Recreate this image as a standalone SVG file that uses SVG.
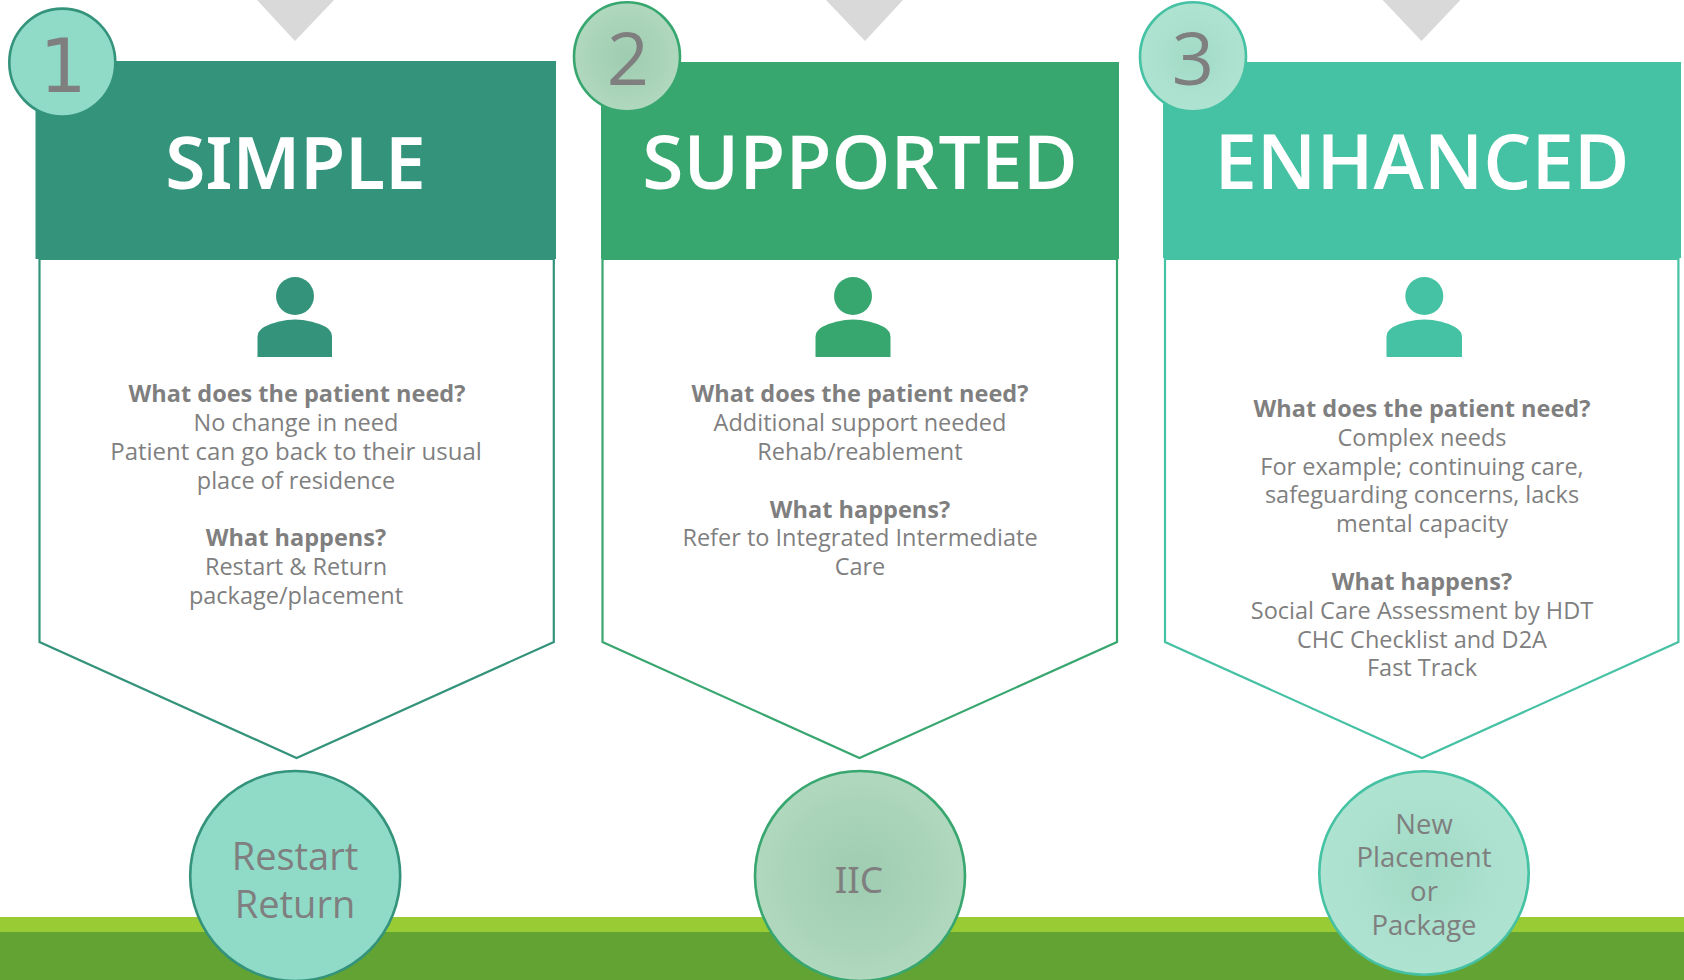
<svg xmlns="http://www.w3.org/2000/svg" width="1684" height="980" viewBox="0 0 1684 980">
<style>
text{font-family:"Open Sans","Noto Sans","Liberation Sans",sans-serif;text-anchor:middle;fill:#7f7f7f}
.t{font-size:76px;font-weight:600;fill:#fff}
.i{font-family:"Noto Sans","Open Sans",sans-serif}
.n{font-size:74px}
.b{font-size:23.5px}
.h{font-size:23.5px;font-weight:700}
.c{font-size:38px}
.d{font-size:27.500px}
.tri{fill:#d9d9d9}
.body{fill:#fff;stroke-width:2.2}
.g1{fill:#33937b}.g2{fill:#38a76f}.g3{fill:#45c1a3}
.s1{stroke:#33937b}.s2{stroke:#38a76f}.s3{stroke:#45c1a3}
.o{stroke-width:2.6}
</style>
<defs>
<radialGradient id="r2"><stop offset="0" stop-color="#9fcdb1"/><stop offset="0.6" stop-color="#a8d3b8"/><stop offset="1" stop-color="#b0d8be"/></radialGradient>
<radialGradient id="r3"><stop offset="0" stop-color="#a1dac6"/><stop offset="0.6" stop-color="#aae0cd"/><stop offset="1" stop-color="#aee3d1"/></radialGradient>
</defs>
<g id="ground"><rect x="0" y="917" width="1684" height="15" fill="#99cb34"/><rect x="0" y="932" width="1684" height="48" fill="#62a333"/></g>
<g id="column-simple">
<polygon class="tri" points="257,0 334,0 295,41"/>
<polygon class="body s1" points="39.5,259 553.8,259 553.8,642 296.6,758 39.5,642"/>
<rect class="g1" x="35.5" y="61" width="520.5" height="198"/>
<text class="t i" x="295.500" y="189" style="font-size:73px;font-weight:600">SIMPLE</text>
<circle class="g1" cx="295" cy="296" r="19"/>
<path class="g1" d="M257.500 357V337Q257.500 331 264 327Q279 319.500 295 319.500Q311 319.500 326 327Q332 331 332 337V357Z"/>
<text class="h" x="297" y="402">What does the patient need?</text>
<text class="b" x="296" y="431">No change in need</text>
<text class="b" x="296" y="460" style="font-size:24px">Patient can go back to their usual</text>
<text class="b" x="296" y="489">place of residence</text>
<text class="h" x="296" y="546">What happens?</text>
<text class="b" x="296" y="575">Restart &amp; Return</text>
<text class="b" x="296" y="604">package/placement</text>
<ellipse class="o s1" cx="62.300" cy="62.600" rx="53" ry="54" fill="#90dac8"/>
<text class="n" x="63" y="92" style="font-family:'DejaVu Sans','Open Sans',sans-serif">1</text>
<circle class="o s1" cx="295.200" cy="876" r="105" fill="#90dac8"/>
<text class="c" x="295" y="870">Restart</text>
<text class="c" x="295" y="918">Return</text>
</g>
<g id="column-supported">
<polygon class="tri" points="826,0 903,0 865,41"/>
<polygon class="body s2" points="602.500,259 1117,259 1117,642 859.500,758 602.500,642"/>
<rect class="g2" x="601" y="62" width="518" height="197"/>
<text class="t" x="860" y="189" style="font-size:75px">SUPPORTED</text>
<circle class="g2" cx="853" cy="296" r="19"/>
<path class="g2" d="M815.500 357V337Q815.500 331 822 327Q837 319.500 853 319.500Q869 319.500 884 327Q890.500 331 890.500 337V357Z"/>
<text class="h" x="860" y="402">What does the patient need?</text>
<text class="b" x="860" y="431">Additional support needed</text>
<text class="b" x="860" y="460">Rehab/reablement</text>
<text class="h" x="860" y="518">What happens?</text>
<text class="b" x="860" y="546">Refer to Integrated Intermediate</text>
<text class="b" x="860" y="575">Care</text>
<ellipse class="o s2" cx="627" cy="56.800" rx="53" ry="54.500" fill="url(#r2)"/>
<text class="n" x="628" y="85">2</text>
<circle class="o s2" cx="860" cy="876" r="105" fill="url(#r2)"/>
<text class="c i" x="859" y="893" style="font-size:37px">IIC</text>
</g>
<g id="column-enhanced">
<polygon class="tri" points="1382.600,0 1460.400,0 1421.500,41"/>
<polygon class="body s3" points="1165,259 1678.400,259 1678.400,642 1422,758 1165,642"/>
<rect class="g3" x="1163" y="62" width="518" height="196"/>
<text class="t" x="1422" y="189">ENHANCED</text>
<circle class="g3" cx="1424.300" cy="296" r="19"/>
<path class="g3" d="M1386.500 357V337Q1386.500 331 1393 327Q1408 319.500 1424.300 319.500Q1441 319.500 1455 327Q1462 331 1462 337V357Z"/>
<text class="h" x="1422" y="417">What does the patient need?</text>
<text class="b" x="1422" y="446">Complex needs</text>
<text class="b" x="1422" y="475">For example; continuing care,</text>
<text class="b" x="1422" y="503">safeguarding concerns, lacks</text>
<text class="b" x="1422" y="532">mental capacity</text>
<text class="h" x="1422" y="590">What happens?</text>
<text class="b" x="1422" y="619">Social Care Assessment by HDT</text>
<text class="b" x="1422" y="648">CHC Checklist and D2A</text>
<text class="b" x="1422" y="676">Fast Track</text>
<ellipse class="o s3" cx="1193" cy="56.800" rx="53" ry="54.500" fill="url(#r3)"/>
<text class="n" x="1193" y="85">3</text>
<ellipse class="o s3" cx="1424" cy="873" rx="104.700" ry="101.700" fill="url(#r3)"/>
<text class="d" x="1424" y="834">New</text>
<text class="d" x="1424" y="867">Placement</text>
<text class="d" x="1424" y="901">or</text>
<text class="d" x="1424" y="935">Package</text>
</g>
</svg>
